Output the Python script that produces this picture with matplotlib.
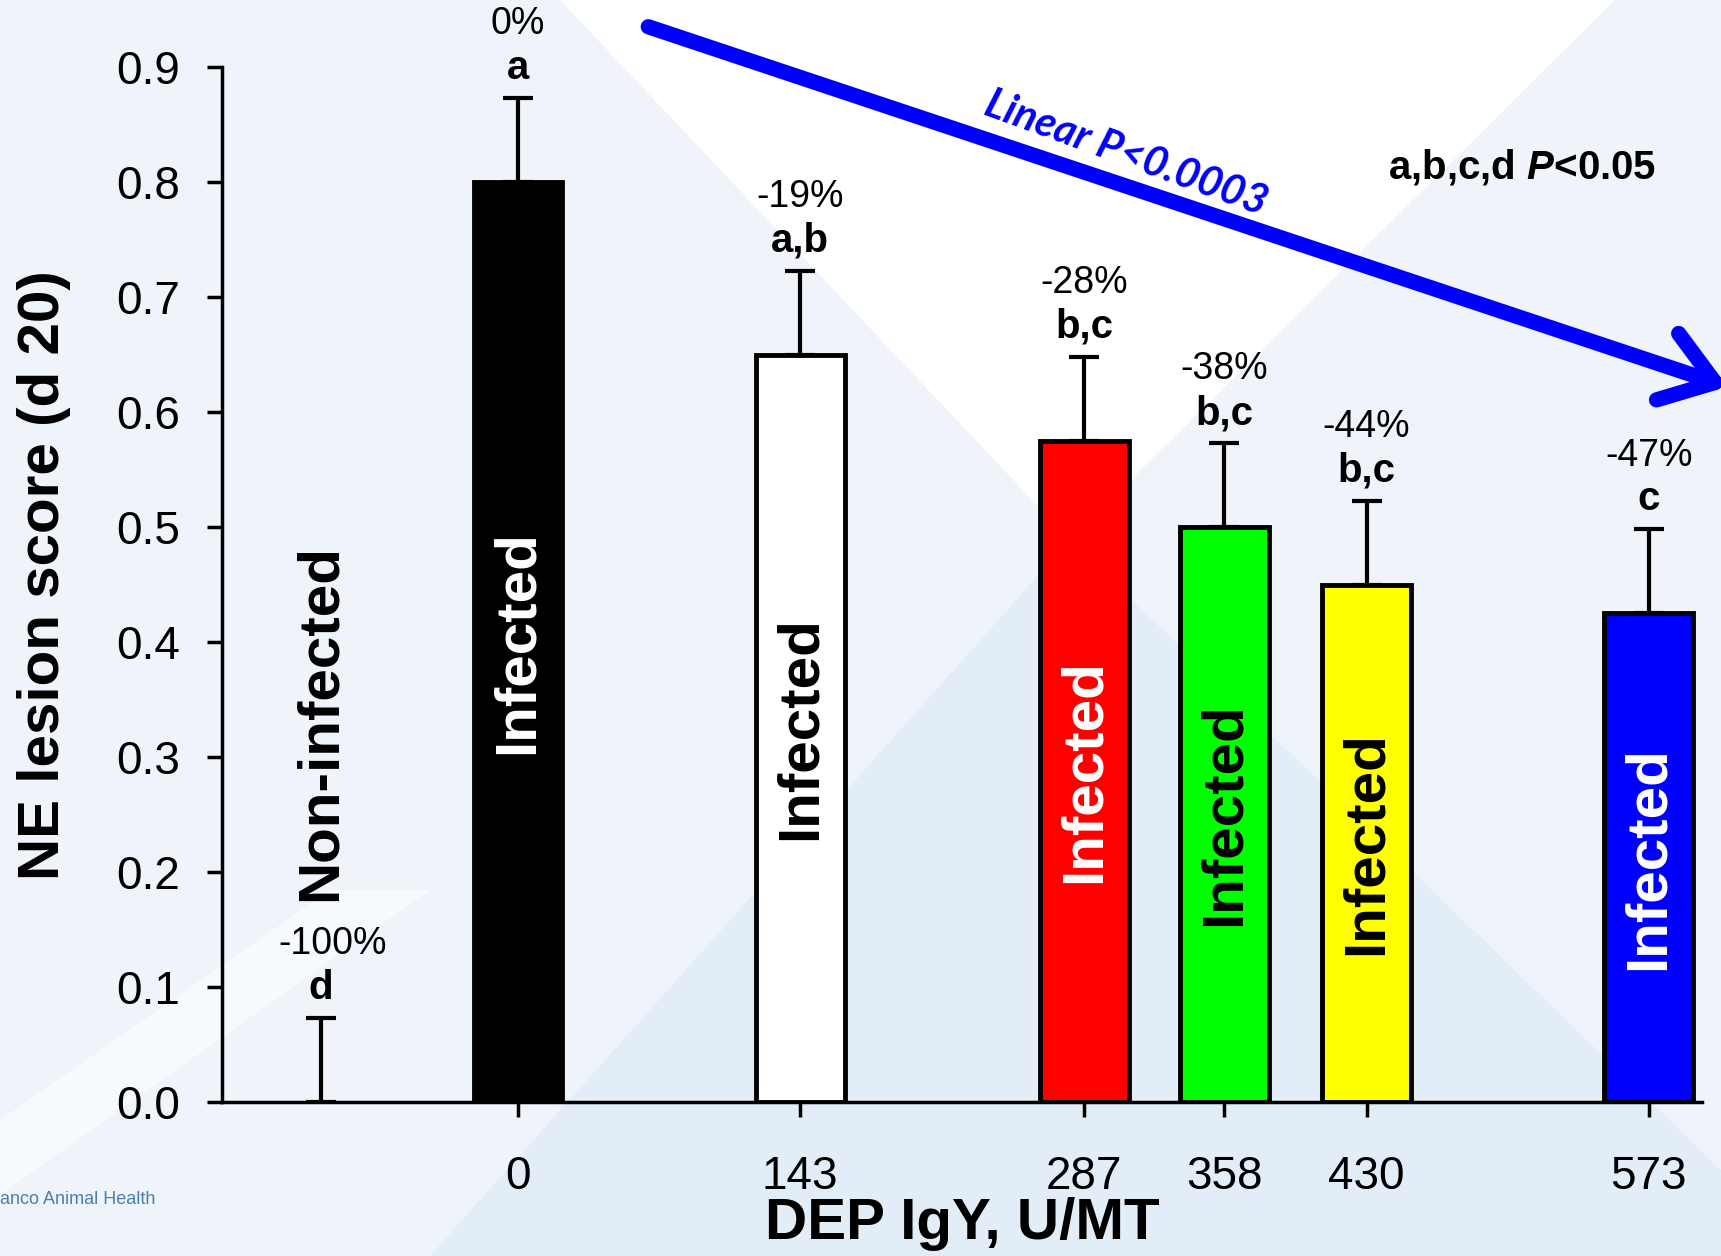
import matplotlib.pyplot as plt
from matplotlib.patches import Polygon
import numpy as np

plt.rcParams['font.family'] = ['Liberation Sans', 'DejaVu Sans']
plt.rcParams['mathtext.fontset'] = 'custom'
plt.rcParams['mathtext.it'] = 'Liberation Sans:italic:bold'
plt.rcParams['mathtext.rm'] = 'Liberation Sans:bold'

# Data
doses = [-100, 0, 143, 287, 358, 430, 573]      # -100 = non-infected control slot
tick_labels = ['', '0', '143', '287', '358', '430', '573']
scores = [0.0, 0.80, 0.65, 0.575, 0.50, 0.45, 0.425]
sem = [0.073, 0.073, 0.073, 0.073, 0.073, 0.073, 0.073]
pct = ['-100%', '0%', '-19%', '-28%', '-38%', '-44%', '-47%']
letters = ['d', 'a', 'a,b', 'b,c', 'b,c', 'b,c', 'c']
bar_colors = ['none', 'black', 'white', '#FF0000', '#00FF00', '#FFFF00', '#0000FF']
text_colors = ['black', 'white', 'black', 'white', 'black', 'black', 'white']
bar_text = ['Non-infected', 'Infected', 'Infected', 'Infected', 'Infected', 'Infected', 'Infected']

W, H = 1721, 1256
fig = plt.figure(figsize=(W / 100, H / 100), dpi=100)
fig.patch.set_facecolor('#EFF4FA')


def px(pts):
    return [(x / W, 1 - y / H) for x, y in pts]


# background decoration (pixel coords of the slide art)
bg = [
    ([(560, 0), (1615, 0), (1070, 540)], 'white'),
    ([(430, 1256), (1070, 540), (1721, 1170), (1721, 1256)], '#E3EDF7'),
    ([(0, 1195), (430, 890), (330, 890), (0, 1120)], '#F7FAFD'),
]
for pts, c in bg:
    fig.add_artist(Polygon(px(pts), closed=True, transform=fig.transFigure,
                           facecolor=c, edgecolor='none', zorder=-10))

ax = fig.add_axes([222 / W, 1 - 1102 / H, (1702 - 222) / W, (1102 - 67) / H])
ax.set_facecolor('none')

x = np.array(doses)
y = np.array(scores)
err = np.array(sem)

ax.errorbar(x, y, yerr=[np.zeros_like(err), err], fmt='none', ecolor='black',
            elinewidth=3, capsize=11, capthick=3, zorder=2)
for xi, yi, c in zip(x, y, bar_colors):
    if yi > 0:
        ax.bar(xi, yi, width=45, color=c, edgecolor='black', linewidth=3.5, zorder=3)

for xi, yi, e, p, l, t, tc in zip(x, y, err, pct, letters, bar_text, text_colors):
    ax.text(xi, yi + e + 0.026, l, ha='center', va='center', fontsize=29,
            fontweight='bold', clip_on=False)
    ax.text(xi + (6 if xi < 0 else 0), yi + e + 0.064, p, ha='center', va='center',
            fontsize=27, clip_on=False)
    ty = yi / 2 if yi > 0 else 0.33
    ax.text(xi, ty, t, ha='center', va='center', rotation=90, fontsize=42,
            fontweight='bold', color=tc, zorder=4)

ax.set_xlim(-150, 600)
ax.set_ylim(0, 0.9)
ax.set_xticks(doses[1:])
ax.set_xticklabels(tick_labels[1:])
ax.set_yticks(np.arange(0, 0.91, 0.1))
ax.set_yticklabels([f'{v:.1f}' for v in np.arange(0, 0.91, 0.1)])
ax.tick_params(axis='both', direction='out', length=11, width=2.5, labelsize=33)
ax.tick_params(axis='x', pad=27)
ax.tick_params(axis='y', pad=19)
for s in ['top', 'right']:
    ax.spines[s].set_visible(False)
for s in ['left', 'bottom']:
    ax.spines[s].set_linewidth(2.5)

ax.set_ylabel('NE lesion score (d 20)', fontsize=42, fontweight='bold', va='center')
ax.yaxis.set_label_coords(-0.12, 0.509)
ax.set_xlabel('DEP IgY, U/MT', fontsize=42, fontweight='bold', va='center')
ax.xaxis.set_label_coords(0.5, -0.118)

# trend arrow
ax.annotate('', xy=(613, 0.622), xytext=(66, 0.935), xycoords='data',
            annotation_clip=False,
            arrowprops=dict(arrowstyle='->,head_length=0.6,head_width=0.42',
                            mutation_scale=60, lw=11, color='#0000FF',
                            shrinkA=0, shrinkB=0, capstyle='round', joinstyle='round'))
ax.text(308, 0.825, 'Linear P<0.0003', rotation=-20, ha='center', va='center',
        fontsize=30, fontweight='bold', fontstyle='italic', color='#0000FF',
        family=['Lato', 'DejaVu Sans'], clip_on=False)
ax.text(509, 0.813, r'a,b,c,d $P$<0.05', ha='center', va='center', fontsize=29,
        fontweight='bold', clip_on=False)

fig.text(0, 1 - 1199 / H, 'anco Animal Health', ha='left', va='center',
         fontsize=13, color='#4A7FAF')

fig.savefig('out.png', dpi=100, facecolor=fig.get_facecolor())
